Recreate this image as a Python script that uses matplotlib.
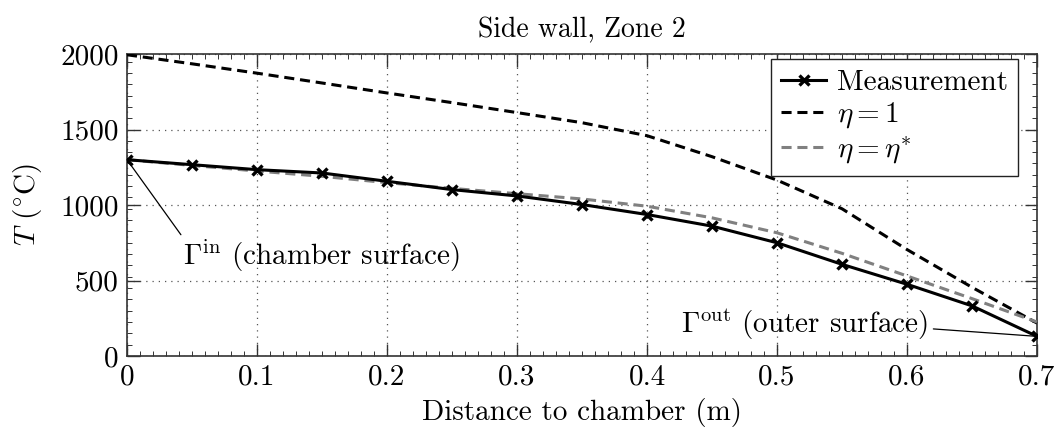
import matplotlib
matplotlib.use("Agg")
import matplotlib.pyplot as plt
from matplotlib.ticker import MultipleLocator

plt.rcParams['font.family'] = ['cmr10', 'DejaVu Serif']
plt.rcParams['mathtext.fontset'] = 'cm'
plt.rcParams['axes.formatter.use_mathtext'] = True
plt.rcParams['axes.unicode_minus'] = False

x = [0.0, 0.05, 0.1, 0.15, 0.2, 0.25, 0.3, 0.35, 0.4, 0.45, 0.5, 0.55, 0.6, 0.65, 0.7]
measurement = [1300, 1267, 1234, 1212, 1157, 1102, 1060, 1003, 937, 860, 750, 607, 475, 332, 130]
eta_one = [1995, 1935, 1873, 1808, 1742, 1678, 1612, 1545, 1459, 1320, 1165, 975, 705, 455, 218]
eta_star = [1300, 1262, 1225, 1190, 1148, 1110, 1075, 1040, 992, 915, 816, 680, 530, 380, 225]

xticks = [0, 0.1, 0.2, 0.3, 0.4, 0.5, 0.6, 0.7]
xticklabels = ['0', '0.1', '0.2', '0.3', '0.4', '0.5', '0.6', '0.7']
yticks = [0, 500, 1000, 1500, 2000]
yticklabels = ['0', '500', '1000', '1500', '2000']

fs = 21
fig = plt.figure(figsize=(10.6, 4.41), dpi=100)
ax = fig.add_axes([127/1060, 1-356/441, (1037-127)/1060, (356-54)/441])

ax.plot(x, eta_one, color='black', lw=2.2, ls=(0, (3.3, 1.9)), label=r'$\eta = 1$', zorder=3)
ax.plot(x, eta_star, color='#808080', lw=2.2, ls=(0, (3.3, 1.9)), label=r'$\eta = \eta^{*}$', zorder=3)
ax.plot(x, measurement, color='black', lw=2.2, marker='x', ms=6.5, mew=2.4,
        label='Measurement', zorder=4)

ax.set_xlim(0, 0.7)
ax.set_ylim(0, 2000)
ax.set_xticks(xticks)
ax.set_xticklabels(xticklabels)
ax.set_yticks(yticks)
ax.set_yticklabels(yticklabels)
ax.xaxis.set_minor_locator(MultipleLocator(0.01))
ax.yaxis.set_minor_locator(MultipleLocator(75))
ax.tick_params(which='both', direction='in', top=True, right=True, labelsize=fs, colors='#333333')
ax.tick_params(which='major', length=9, width=1.0, pad=6)
ax.tick_params(which='minor', length=3.5, width=0.7)
for lab in ax.get_xticklabels() + ax.get_yticklabels():
    lab.set_color('black')
for s in ax.spines.values():
    s.set_color('#333333')
    s.set_linewidth(1.2)
ax.grid(True, which='major', ls=(0, (1, 4)), color='#555555', lw=0.9)

ax.set_xlabel('Distance to chamber (m)', fontsize=fs, labelpad=5)
ax.set_ylabel(r'$T$ ($^{\circ}$C)', fontsize=fs, labelpad=12)
ax.set_title('Side wall, Zone 2', fontsize=20, pad=12)

handles, labels = ax.get_legend_handles_labels()
order = [2, 0, 1]
leg = ax.legend([handles[i] for i in order], [labels[i] for i in order],
                loc='upper right', fontsize=fs, frameon=True, fancybox=False,
                edgecolor='#222222', framealpha=1, handlelength=1.55,
                handletextpad=0.35, borderpad=0.35, labelspacing=0.16,
                borderaxespad=0, bbox_to_anchor=(0.979, 0.982))
leg.get_frame().set_linewidth(1.0)

ax.annotate(r'$\Gamma^{\mathrm{in}}$ (chamber surface)', xy=(x[0], measurement[0]),
            xytext=(0.043, 665), fontsize=fs, ha='left', va='center',
            arrowprops=dict(arrowstyle='-', color='black', lw=0.9,
                            shrinkA=0, shrinkB=0, relpos=(0.0, 1.0)))
ax.annotate(r'$\Gamma^{\mathrm{out}}$ (outer surface)', xy=(x[-1], measurement[-1]),
            xytext=(0.616, 205), fontsize=fs, ha='right', va='center',
            arrowprops=dict(arrowstyle='-', color='black', lw=0.9,
                            shrinkA=2, shrinkB=0, relpos=(1.0, 0.4)))

fig.savefig('out.png', dpi=100)
